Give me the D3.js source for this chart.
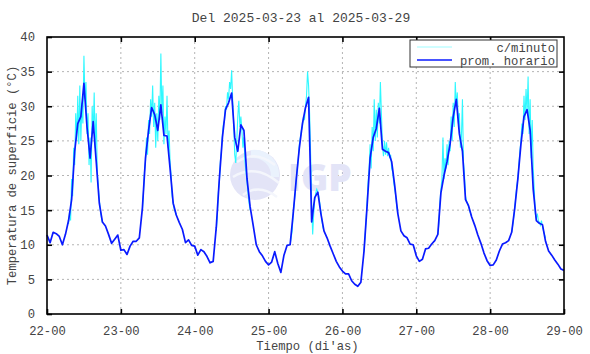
<!DOCTYPE html>
<meta charset="utf-8">
<style>
body { margin: 0; background: #fff; }
svg text { font-family: "Liberation Mono", "DejaVu Sans Mono", monospace; fill: #444; font-size: 12.2px; }
.grid line { stroke: #b4b4b4; stroke-dasharray: 2,3; }
.frame { fill: none; stroke: #000; stroke-width: 1.6; }
.tick-in { stroke: #000; stroke-width: 1.6; }
</style>
<body>
<svg class="chart" width="590" height="354"></svg>
<script src="https://cdn.jsdelivr.net/npm/d3@7/dist/d3.min.js"></script>
<script>

// promedio horario, una lista por dia (00h..23h)
var prom22 = [11.4,10.3,11.8,11.6,11.2,10.0,11.5,13.5,16.5,23.5,27.5,28.5,33.3,27.0,22.5,27.8,22.0,16.0,13.3,12.7,11.5,10.2,10.8,11.4];
var prom23 = [9.2,9.3,8.6,9.8,10.5,10.5,11.0,15.3,22.5,26.5,29.8,28.8,26.5,30.2,25.8,25.7,21.0,16.0,14.3,13.2,12.2,10.3,10.7,9.9];
var prom24 = [9.8,8.5,9.3,9.0,8.3,7.4,7.6,12.5,19.5,25.5,29.5,30.5,31.9,25.5,23.5,27.3,26.5,19.5,15.5,12.8,10.0,9.0,8.4,7.6];
var prom25 = [7.1,7.5,9.0,7.3,6.0,8.5,9.9,10.0,14.5,19.5,24.0,27.5,29.8,31.3,13.3,16.8,17.6,14.5,12.0,11.0,9.8,8.7,7.6,6.8];
var prom26 = [6.2,5.8,5.8,4.8,4.3,4.0,4.6,9.0,15.5,22.5,25.5,26.8,29.7,23.8,23.5,23.3,22.0,18.5,14.5,12.0,11.3,11.0,10.1,10.0];
var prom27 = [8.4,7.6,7.9,9.4,9.5,10.1,10.6,11.5,17.5,20.0,22.0,24.6,28.5,31.0,26.0,23.5,16.5,15.6,14.0,12.8,11.4,10.2,8.8,7.7];
var prom28 = [7.0,7.1,7.8,9.1,10.1,10.3,10.6,11.8,15.3,19.5,24.5,28.5,29.5,26.5,18.0,13.5,13.1,12.9,10.5,9.1,8.5,7.8,7.2,6.5];
var prom29 = [6.3];

// datos c/minuto de las horas de sol, cada 20 min de 07:00 a 18:00
var min22 = [13.0,14.8,13.5,19.5,17.0,24.0,21.5,29.0,25.0,31.5,24.5,33.0,25.0,30.5,27.5,37.3,31.0,33.5,26.0,29.0,21.5,25.5,19.0,30.0,26.0,32.0,24.0,29.0,20.5,18.5,16.5,15.0,14.0,13.2];
var min23 = [15.0,17.5,20.5,22.0,25.5,23.0,28.0,26.0,31.0,28.5,33.0,27.0,30.5,24.0,29.0,25.0,31.5,28.0,37.6,29.0,33.0,24.5,28.5,26.0,31.5,24.0,26.5,22.0,20.0,17.0,16.0,15.2,14.8,14.3];
var min24 = [12.0,14.0,17.5,19.0,22.0,23.5,26.0,27.5,28.0,30.0,29.5,32.0,31.0,33.5,32.5,35.2,31.0,27.5,23.0,21.8,25.0,28.5,30.8,27.0,28.5,26.5,24.0,25.5,22.0,20.5,19.0,17.5,16.0,15.0];
var min25 = [10.0,11.0,12.0,14.5,16.0,17.5,19.5,21.0,22.5,24.5,25.5,26.5,27.0,28.5,28.0,30.0,31.5,35.0,33.0,29.0,23.0,16.0,11.5,14.5,16.5,17.5,18.0,17.6,17.0,16.0,14.8,13.5,12.5,12.0];
var min26 = [9.0,11.0,13.5,16.0,19.0,21.0,24.5,21.0,27.0,23.5,31.0,25.0,29.5,25.5,30.5,27.5,33.5,29.0,24.5,22.8,25.0,23.0,24.8,22.8,24.0,22.5,23.0,21.0,20.5,19.0,18.0,17.0,15.5,14.5];
var min27 = [11.5,13.0,16.0,18.0,19.5,25.5,19.5,22.5,21.0,24.5,21.5,25.0,23.5,28.5,25.0,30.5,27.0,33.5,30.0,32.0,27.5,29.0,24.0,25.5,31.0,22.0,20.0,17.0,16.3,16.0,15.5,15.0,14.5,14.0];
var min28 = [11.8,12.8,14.0,15.3,17.0,18.5,19.5,21.5,23.5,25.0,27.5,26.0,31.5,28.0,32.5,29.0,34.3,26.0,31.0,22.5,28.0,21.0,18.0,14.5,13.8,14.5,13.5,13.2,12.8,13.5,12.7,12.0,11.5,11.0];

var yTicks = [0,5,10,15,20,25,30,35,40];
var titulo = "Del 2025-03-23 al 2025-03-29";
var leyenda = ["c/minuto", "prom. horario"];

var svg = d3.select("svg.chart"),
    margin = {top: 37, right: 26, bottom: 40, left: 47},
    width = +svg.attr("width") - margin.left - margin.right,
    height = +svg.attr("height") - margin.top - margin.bottom;

var t0 = new Date(Date.UTC(2025, 2, 22));
var hora = function(i) { return new Date(t0.getTime() + i * 3600e3); };

var x = d3.scaleUtc()
    .domain([t0, hora(168)])
    .range([0, width]);

var y = d3.scaleLinear()
    .domain([0, 40])
    .range([height, 0]);

var g = svg.append("g").attr("transform", "translate(" + margin.left + "," + margin.top + ")");

// grid
var dayTicks = d3.utcDay.range(t0, d3.utcDay.offset(hora(168), 1));
var grid = g.append("g").attr("class", "grid");
grid.selectAll(".vx").data(dayTicks.slice(1, -1)).enter().append("line")
    .attr("x1", function(d) { return x(d); }).attr("x2", function(d) { return x(d); })
    .attr("y1", 0).attr("y2", height);
grid.selectAll(".hy").data(yTicks.slice(1, -1)).enter().append("line")
    .attr("x1", 0).attr("x2", width)
    .attr("y1", function(d) { return y(d); }).attr("y2", function(d) { return y(d); });

// marca de agua IGP
var wm = g.append("g");
wm.append("circle").attr("cx", 208).attr("cy", 138).attr("r", 25).attr("fill", "#e3e4f7");
wm.append("path").attr("d", "M204,113 A25,25 0 0,1 232,140 L224,140 A18,18 0 0,0 204,121 Z")
    .attr("fill", "#eaf2fd");
wm.append("path").attr("d", "M190,125 Q208,112 228,128 M186,140 Q208,126 232,146 M196,158 Q212,146 230,160")
    .attr("fill", "none").attr("stroke", "#f4f6fc").attr("stroke-width", 2.5);
wm.append("text").attr("x", 241).attr("y", 154)
    .style("font-family", "'Open Sans', sans-serif").style("font-weight", "800")
    .style("font-size", "37px").style("fill", "#e3e4f7").text("IGP");

// series
var promHorario = [].concat(prom22, prom23, prom24, prom25, prom26, prom27, prom28, prom29)
    .map(function(v, i) { return {t: hora(i), v: v}; });

var porMinuto = [min22, min23, min24, min25, min26, min27, min28].map(function(arr, d) {
  return arr.map(function(v, k) { return {t: hora(d * 24 + 7 + k / 3), v: v}; });
});

var line = d3.line()
    .x(function(d) { return x(d.t); })
    .y(function(d) { return y(d.v); });

g.append("g").selectAll("path").data(porMinuto).enter().append("path")
    .attr("d", line)
    .attr("fill", "none")
    .attr("stroke", "#2ef8ff")
    .attr("stroke-width", 1.1);

g.append("path")
    .datum(promHorario)
    .attr("d", line)
    .attr("fill", "none")
    .attr("stroke", "#0a1aff")
    .attr("stroke-width", 1.7)
    .attr("stroke-linejoin", "round");

// marco y ticks
g.append("rect").attr("class", "frame").attr("width", width).attr("height", height);

var xAxis = g.append("g").attr("transform", "translate(0," + height + ")")
    .call(d3.axisBottom(x).tickValues(dayTicks.slice(0, 8)).tickSize(-5).tickPadding(12)
      .tickFormat(d3.utcFormat("%d-%H")));
xAxis.select(".domain").remove();
xAxis.selectAll("line").attr("class", "tick-in");

var xTop = g.append("g")
    .call(d3.axisTop(x).tickValues(dayTicks.slice(1, 7)).tickSize(-5).tickFormat(""));
xTop.select(".domain").remove();
xTop.selectAll("line").attr("class", "tick-in");

var yAxis = g.append("g")
    .call(d3.axisLeft(y).tickValues(yTicks).tickSize(-5).tickPadding(12));
yAxis.select(".domain").remove();
yAxis.selectAll("line").attr("class", "tick-in");

var yRight = g.append("g").attr("transform", "translate(" + width + ",0)")
    .call(d3.axisRight(y).tickValues(yTicks.slice(1, -1)).tickSize(-5).tickFormat(""));
yRight.select(".domain").remove();
yRight.selectAll("line").attr("class", "tick-in");

svg.selectAll(".tick text").style("font-size", "12.2px").style("fill", "#444")
    .style("font-family", "'Liberation Mono', 'DejaVu Sans Mono', monospace");

// textos
svg.append("text").attr("x", 301).attr("y", 22).attr("text-anchor", "middle")
    .style("font-size", "13px").text(titulo);
svg.append("text").attr("x", margin.left + width / 2 + 2).attr("y", 350).attr("text-anchor", "middle").text("Tiempo (di'as)");
svg.append("text")
    .attr("transform", "translate(16," + (margin.top + height / 2) + ") rotate(-90)")
    .attr("text-anchor", "middle")
    .text("Temperatura de superficie (\u00b0C)");

// leyenda
var lg = svg.append("g").attr("transform", "translate(410,40)");
lg.append("rect").attr("width", 147).attr("height", 27).attr("fill", "#fff")
    .attr("stroke", "#333").attr("stroke-width", 1);
var colores = ["#9ffcff", "#0a1aff"];
leyenda.forEach(function(s, i) {
  lg.append("line").attr("x1", 7).attr("x2", 42).attr("y1", 7 + i * 13).attr("y2", 7 + i * 13)
    .attr("stroke", colores[i]).attr("stroke-width", i ? 1.7 : 1);
  lg.append("text").attr("x", 145).attr("y", 11.5 + i * 13).attr("text-anchor", "end").text(s);
});

</script>
</body>
